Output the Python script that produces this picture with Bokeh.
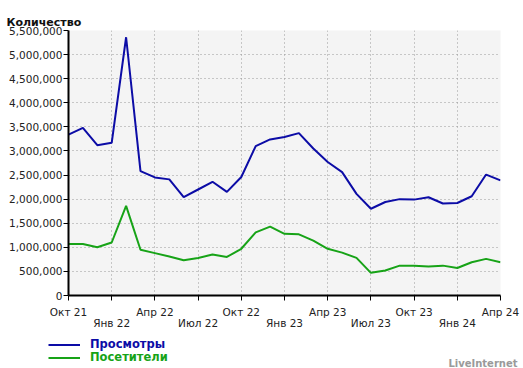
from bokeh.plotting import figure
from bokeh.models import (Range1d, FixedTicker, Legend, LegendItem, Label, NumeralTickFormatter)
from bokeh.embed import file_html
from bokeh.resources import INLINE

months = ["Окт 21", "Ноя 21", "Дек 21", "Янв 22", "Фев 22", "Мар 22", "Апр 22", "Май 22",
          "Июн 22", "Июл 22", "Авг 22", "Сен 22", "Окт 22", "Ноя 22", "Дек 22", "Янв 23",
          "Фев 23", "Мар 23", "Апр 23", "Май 23", "Июн 23", "Июл 23", "Авг 23", "Сен 23",
          "Окт 23", "Ноя 23", "Дек 23", "Янв 24", "Фев 24", "Мар 24", "Апр 24"]

views = [3340000, 3480000, 3120000, 3170000, 5360000, 2580000, 2450000, 2410000,
         2040000, 2200000, 2360000, 2150000, 2460000, 3100000, 3240000, 3290000,
         3370000, 3050000, 2770000, 2560000, 2110000, 1800000, 1940000, 2000000,
         1990000, 2040000, 1910000, 1920000, 2060000, 2510000, 2390000]

visitors = [1070000, 1070000, 1000000, 1100000, 1860000, 950000, 880000, 810000,
            730000, 780000, 850000, 800000, 970000, 1310000, 1430000, 1280000,
            1270000, 1140000, 970000, 890000, 780000, 470000, 520000, 620000,
            620000, 600000, 620000, 570000, 690000, 760000, 690000]

y_ticks = [0, 500000, 1000000, 1500000, 2000000, 2500000, 3000000, 3500000,
           4000000, 4500000, 5000000, 5500000]

series_names = ["Просмотры", "Посетители"]
title_text = "Количество"
watermark = "LiveInternet"

BLUE = "#0c0ca6"
GREEN = "#17a317"
FONT = "DejaVu Sans"

x = list(range(len(months)))
quarter_ticks = [i for i in x if i % 3 == 0]

# ---------------- main chart ----------------
p = figure(frame_width=432, frame_height=265, output_backend="svg", toolbar_location=None,
           x_range=Range1d(0, len(months) - 1), y_range=Range1d(0, 5500000),
           min_border_left=68, min_border_right=23, min_border_top=30, min_border_bottom=40,
           background_fill_color="#f4f4f4", border_fill_color="white", outline_line_color=None)

p.title.text = title_text
p.title.text_font = FONT
p.title.text_font_size = "11px"
p.title.text_font_style = "bold"
p.title.text_color = "#111111"
p.title.align = "left"
p.title.offset = -62
p.title.standoff = 0
p.title.vertical_align = "top"

p.line(x, views, line_color=BLUE, line_width=2)
p.line(x, visitors, line_color=GREEN, line_width=2)

p.yaxis.ticker = FixedTicker(ticks=y_ticks)
p.yaxis.formatter = NumeralTickFormatter(format="0,0")
p.yaxis.major_label_text_font = FONT
p.yaxis.major_label_text_font_size = "10.5px"
p.yaxis.major_label_text_color = "#222222"
p.yaxis.major_label_standoff = 1
p.yaxis.major_tick_out = 5
p.yaxis.major_tick_in = 0
p.yaxis.minor_tick_line_color = None
p.yaxis.axis_line_width = 2
p.yaxis.axis_line_color = "black"

overrides = {}
for i in quarter_ticks:
    overrides[i] = months[i] if i % 6 == 0 else "\n" + months[i]
p.xaxis.ticker = FixedTicker(ticks=quarter_ticks)
p.xaxis.major_label_overrides = overrides
p.xaxis.major_label_text_font = FONT
p.xaxis.major_label_text_font_size = "10.5px"
p.xaxis.major_label_text_line_height = 0.95
p.xaxis.major_label_text_color = "#222222"
p.xaxis.major_label_standoff = 5
p.xaxis.major_tick_out = 5
p.xaxis.major_tick_in = 0
p.xaxis.minor_tick_line_color = None
p.xaxis.axis_line_width = 2
p.xaxis.axis_line_color = "black"

p.xgrid.ticker = FixedTicker(ticks=quarter_ticks)
p.ygrid.ticker = FixedTicker(ticks=y_ticks)
for g in (p.xgrid, p.ygrid):
    g.grid_line_color = "#999999"
    g.grid_line_dash = "1 3"
    g.grid_line_width = 1

# ---------------- legend strip (separate root, not frame-aligned) ----------------
leg = figure(width=523, height=33, output_backend="svg", toolbar_location=None,
             x_range=Range1d(0, 1), y_range=Range1d(-2, -1),
             x_axis_type=None, y_axis_type=None, min_border=0,
             background_fill_color="white", border_fill_color="white", outline_line_color=None)
leg.grid.visible = False

# series lines (outside this strip's visible range; used only for the legend keys)
k1 = leg.line(x, views, line_color=BLUE, line_width=2)
k2 = leg.line(x, visitors, line_color=GREEN, line_width=2)

for r, name, col, yy in ((k1, series_names[0], BLUE, 17), (k2, series_names[1], GREEN, 4)):
    lg = Legend(items=[LegendItem(label=name, renderers=[r])], location=(48, yy),
                glyph_width=32, glyph_height=13, label_standoff=10, padding=0, margin=0,
                spacing=0, border_line_color=None, background_fill_alpha=0,
                label_text_font=FONT, label_text_font_size="11.5px",
                label_text_font_style="bold", label_text_color=col, label_height=13)
    leg.add_layout(lg, "center")

leg.add_layout(Label(x=517, y=5, x_units="screen", y_units="screen", text=watermark,
                     text_align="right", text_baseline="alphabetic", text_font=FONT,
                     text_font_size="10px", text_font_style="bold", text_color="#9a9a9a"))

open("out.html", "w").write(file_html([p, leg], INLINE))
